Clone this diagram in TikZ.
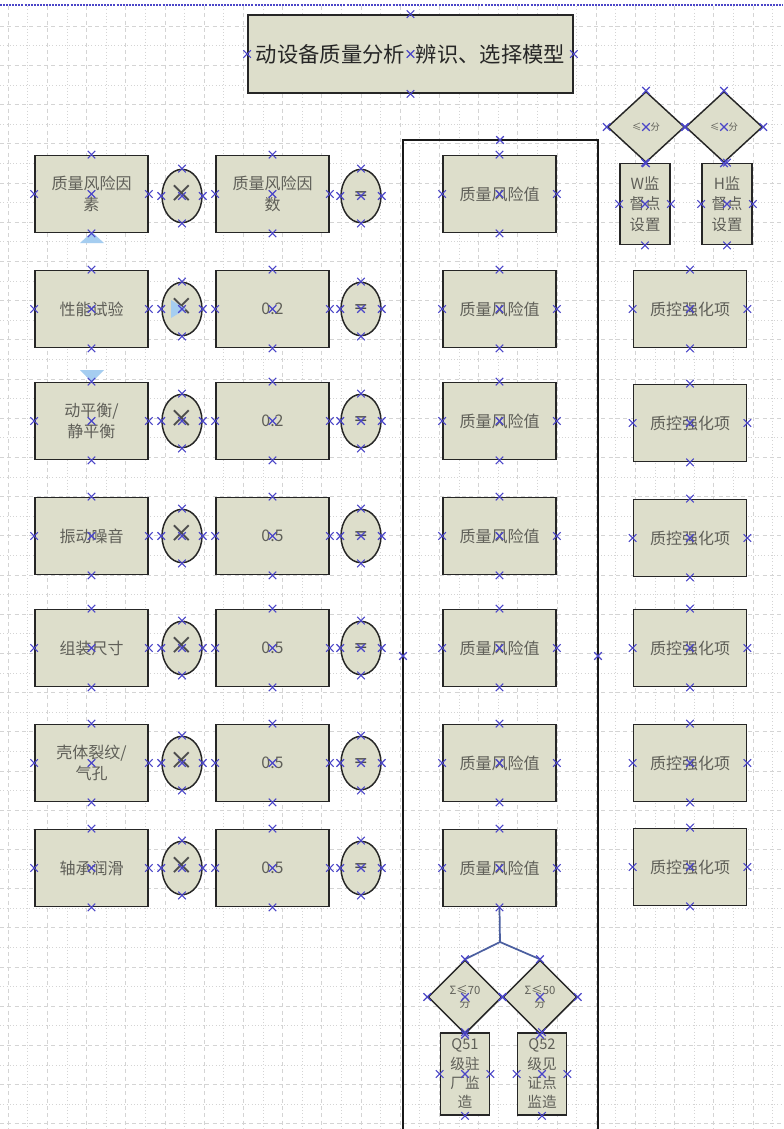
\documentclass[tikz,border=0pt]{standalone}
\usepackage{fontspec}
\newfontfamily\cjk{Noto Sans CJK SC}
\newfontfamily\dvs{DejaVu Sans}
\newfontfamily\lsf{Liberation Serif}
\usetikzlibrary{shapes.geometric}
\definecolor{boxfill}{RGB}{221,222,203}
\definecolor{mkblue}{RGB}{75,70,200}
\definecolor{txtg}{RGB}{95,95,88}
\definecolor{gridc}{RGB}{212,212,212}
\definecolor{tri}{RGB}{165,205,240}
\definecolor{conn}{RGB}{75,95,160}
\tikzset{
  shp/.style={draw=black!85, line width=1.3pt, fill=boxfill, inner sep=1pt, align=center, text=txtg},
  box/.style={shp, rectangle, minimum width=84.75pt, minimum height=57.75pt, font=\cjk\fontsize{12}{16}\selectfont},
  ell/.style={shp, ellipse, minimum width=30pt, minimum height=40pt, line width=1.1pt},
  dia/.style={shp, diamond, inner sep=0pt, line width=1.1pt},
  sym/.style={font=\lsf\fontsize{30}{30}\selectfont, text=black!70, inner sep=0pt},
  eqs/.style={font=\dvs\fontsize{13}{13}\selectfont, text=black!70, inner sep=0pt},
  mk/.style={draw=mkblue, line width=0.85pt},
  gridline/.style={draw=gridc, line width=0.45pt, dotted},
  gridline2/.style={draw=gridc, line width=0.45pt, dash pattern=on 3pt off 2.5pt},
  conn/.style={draw=conn, line width=1.3pt},
  trim/.style={fill=tri, draw=none}
}
\newcommand\mk[1]{\draw[mk] (#1) +(-3.8,-3.8) -- +(3.8,3.8) (#1) +(-3.8,3.8) -- +(3.8,-3.8);}
\newcommand\mkall[1]{\foreach \aa in {north,south,east,west,center}{\mk{#1.\aa}}}
\begin{document}
\begin{tikzpicture}[x=0.75pt,y=-0.75pt]
\useasboundingbox (0,0) rectangle (783,1129);
\fill[white] (0,0) rectangle (783,1129);
% grid
\foreach \gx [count=\gi] in {8,27.6,...,783}{
  \ifodd\gi \draw[gridline2] (\gx,6) -- (\gx,1129); \else \draw[gridline] (\gx,6) -- (\gx,1129); \fi}
\foreach \gy [count=\gi] in {26,45.6,...,1129}{
  \ifodd\gi \draw[gridline2] (0,\gy) -- (783,\gy); \else \draw[gridline] (0,\gy) -- (783,\gy); \fi}
% top dotted blue line
\draw[draw=mkblue, line width=1.2pt, dash pattern=on 1.5pt off 0.8pt] (0,5) -- (783,5);

% title
\node[box, minimum width=243.75pt, minimum height=58.5pt, font=\cjk\fontsize{16}{18}\selectfont, text=black!85] (title) at (410.5,54) {动设备质量分析\hspace{0.5em}辨识、选择模型};

% container
\draw[draw=black!90, line width=1.3pt] (403,1135) -- (403,140) -- (598,140) -- (598,1135);

% column A
\node[box] (a1) at (91.5,194) {质量风险因\\素};
\node[box] (a2) at (91.5,309) {性能试验};
\node[box] (a3) at (91.5,421) {动平衡/\\静平衡};
\node[box] (a4) at (91.5,536) {振动噪音};
\node[box] (a5) at (91.5,648) {组装尺寸};
\node[box] (a6) at (91.5,763) {壳体裂纹/\\气孔};
\node[box] (a7) at (91.5,868) {轴承润滑};

% multiply ellipses
\foreach \i/\yy in {1/196,2/309,3/421,4/536,5/648,6/763,7/868}{
  \node[ell] (x\i) at (182,\yy) {};
  \node[sym] at (x\i.center) {×};
}

% column B
\node[box] (b1) at (272.5,194) {质量风险因\\数};
\node[box] (b2) at (272.5,309) {0.2};
\node[box] (b3) at (272.5,421) {0.2};
\node[box] (b4) at (272.5,536) {0.5};
\node[box] (b5) at (272.5,648) {0.5};
\node[box] (b6) at (272.5,763) {0.5};
\node[box] (b7) at (272.5,868) {0.5};

% equals ellipses
\foreach \i/\yy in {1/196,2/309,3/421,4/536,5/648,6/763,7/868}{
  \node[ell] (e\i) at (361,\yy) {};
  \node[eqs] at (e\i.center) {=};
}

% column C
\foreach \i/\yy in {1/194,2/309,3/421,4/536,5/648,6/763,7/868}{
  \node[box] (c\i) at (499.5,\yy) {质量风险值};
}

% column D
\foreach \i/\yy in {2/309,3/423,4/538,5/648,6/763,7/867}{
  \node[box] (d\i) at (690,\yy) {质控强化项};
}

% top right diamonds and boxes
\node[dia, minimum width=57.75pt, minimum height=53.25pt, font=\cjk\fontsize{7}{8}\selectfont] (dw) at (646,127) {≤\hspace{1em}分};
\node[dia, minimum width=57.75pt, minimum height=53.25pt, font=\cjk\fontsize{7}{8}\selectfont] (dh) at (724,127) {≤\hspace{1em}分};
\node[box, minimum width=37.5pt, minimum height=60.75pt, font=\cjk\fontsize{11.5}{15.5}\selectfont] (w) at (645,204) {W监\\督点\\设置};
\node[box, minimum width=37.5pt, minimum height=60.75pt, font=\cjk\fontsize{11.5}{15.5}\selectfont] (h) at (727,204) {H监\\督点\\设置};

% bottom diamonds and boxes
\node[dia, minimum width=55.5pt, minimum height=55.5pt, font=\cjk\fontsize{8.5}{10}\selectfont] (s1) at (465,997) {Σ≤70\\分};
\node[dia, minimum width=55.5pt, minimum height=55.5pt, font=\cjk\fontsize{8.5}{10}\selectfont] (s2) at (540,997) {Σ≤50\\分};
\node[box, minimum width=36.75pt, minimum height=61.5pt, font=\cjk\fontsize{11}{14.5}\selectfont] (q1) at (465,1074) {Q51\\级驻\\厂监\\造};
\node[box, minimum width=36.75pt, minimum height=61.5pt, font=\cjk\fontsize{11}{14.5}\selectfont] (q2) at (542,1074) {Q52\\级见\\证点\\监造};

% connector
\coordinate (j) at (500,942);
\draw[conn] (c7.south) -- (j);
\draw[conn] (j) -- (s1.north);
\draw[conn] (j) -- (s2.north);

% light blue auto-connect triangles
\fill[trim] (80,243) -- (104,243) -- (92,232) -- cycle;
\fill[trim] (80,370) -- (104,370) -- (92,382) -- cycle;
\fill[trim] (171,300) -- (171,318) -- (186,309) -- cycle;

% connection point markers
\mkall{title}
\foreach \n in {a1,a2,a3,a4,a5,a6,a7,b1,b2,b3,b4,b5,b6,b7,x1,x2,x3,x4,x5,x6,x7,e1,e2,e3,e4,e5,e6,e7,c1,c2,c3,c4,c5,c6,c7,d2,d3,d4,d5,d6,d7,dw,dh,w,h,s1,s2,q1,q2}{\mkall{\n}}
\mk{500,140}
\mk{403,656}
\mk{598,656}
\end{tikzpicture}
\end{document}
